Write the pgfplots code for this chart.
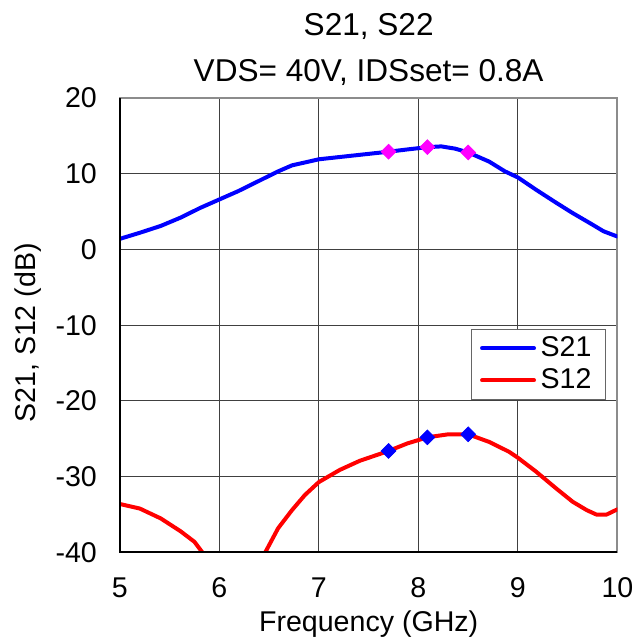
\documentclass[border=0pt]{standalone}
\usepackage{fontspec}
\setmainfont{Liberation Sans}
\usepackage{pgfplots}
\pgfplotsset{compat=1.18}
\definecolor{sblue}{RGB}{0,0,255}
\definecolor{sred}{RGB}{255,0,0}
\definecolor{smag}{RGB}{255,0,255}
\newcommand{\lbl}{\fontsize{14.3}{16}\selectfont}
\newcommand{\ttl}{\fontsize{15.8}{18}\selectfont}

\begin{document}
\begin{tikzpicture}
\begin{axis}[
  scale only axis,
  width=249pt, height=227.5pt,
  xmin=5, xmax=10, ymin=-40, ymax=20,
  xtick={5,6,7,8,9,10},
  ytick={-40,-30,-20,-10,0,10,20},
  grid=major,
  grid style={black!75, line width=0.5pt},
  axis line style={black!45, line width=1pt},
  major tick length=0pt,
  tick label style={font=\lbl},
  /pgf/number format/assume math mode=true,
  xticklabel style={yshift=-9pt},
  yticklabel style={xshift=-8pt},
  label style={font=\lbl},
  xlabel={Frequency (GHz)},
  xlabel style={at={(axis description cs:0.5,-0.1736)}, anchor=base},
  ylabel={S21, S12 (dB)},
  ylabel style={at={(axis description cs:-0.185,0.483)}, anchor=center},
  legend style={at={(0.705,0.4923)}, anchor=north west, draw=black!60,
    font=\lbl, inner xsep=4.5pt, inner ysep=1.5pt,
    nodes={inner sep=2.3pt}},
  legend cell align=left,
  legend image code/.code={\draw[#1] (0pt,0pt) -- (26pt,0pt);},
  clip mode=individual,
]

% S21
\addplot[sblue, line width=2pt, line cap=round, line join=round] coordinates {
  (5.0,1.4) (5.2,2.2) (5.41,3.1) (5.61,4.2) (5.81,5.5) (6.0,6.6)
  (6.19,7.7) (6.39,9.0) (6.59,10.3) (6.73,11.1) (6.9,11.6) (7.0,11.9)
  (7.35,12.4) (7.7,12.9) (7.89,13.2) (8.09,13.5) (8.23,13.6) (8.37,13.3)
  (8.5,12.8) (8.71,11.6) (8.87,10.3) (9.0,9.5) (9.18,7.9) (9.38,6.2)
  (9.55,4.8) (9.72,3.5) (9.86,2.4) (10.0,1.7)
};
\addlegendentry{S21}

% S12
\addplot[sred, line width=2pt, line cap=round, line join=round] coordinates {
  (5.0,-33.6) (5.2,-34.2) (5.41,-35.5) (5.61,-37.2) (5.75,-38.6)
  (5.83,-40.0) (5.9,-41.5) (6.0,-44.0) (6.15,-48.0) (6.3,-46.0)
  (6.4,-42.2) (6.46,-40.0) (6.59,-36.8) (6.73,-34.4) (6.86,-32.4)
  (7.0,-30.7) (7.21,-29.1) (7.41,-27.9) (7.7,-26.6) (7.89,-25.6)
  (8.09,-24.8) (8.3,-24.4) (8.5,-24.4) (8.71,-25.4) (8.91,-26.7)
  (9.0,-27.5) (9.18,-29.3) (9.38,-31.5) (9.55,-33.3) (9.69,-34.4)
  (9.79,-35.0) (9.89,-35.0) (10.0,-34.3)
};
\addlegendentry{S12}

% marker points
\addplot[only marks, mark=square*, mark size=2.6pt, mark options={rotate=45},
  smag, forget plot]
  coordinates {(7.7,12.9) (8.09,13.5) (8.5,12.8)};
\addplot[only marks, mark=square*, mark size=2.6pt, mark options={rotate=45},
  sblue, forget plot]
  coordinates {(7.7,-26.6) (8.09,-24.8) (8.5,-24.4)};

\draw[black, line width=1pt] (rel axis cs:0,1) -- (rel axis cs:0,0) -- (rel axis cs:1,0);

\node[anchor=base, font=\ttl] at (rel axis cs:0.5,1.138) {S21, S22};
\node[anchor=base, font=\ttl] at (rel axis cs:0.5,1.035) {VDS= 40V, IDSset= 0.8A};

\coordinate (bl) at (rel axis cs:-0.241,-0.1934);
\coordinate (tr) at (rel axis cs:1.052,1.2154);
\end{axis}
\path (bl) rectangle (tr);
\end{tikzpicture}
\end{document}
